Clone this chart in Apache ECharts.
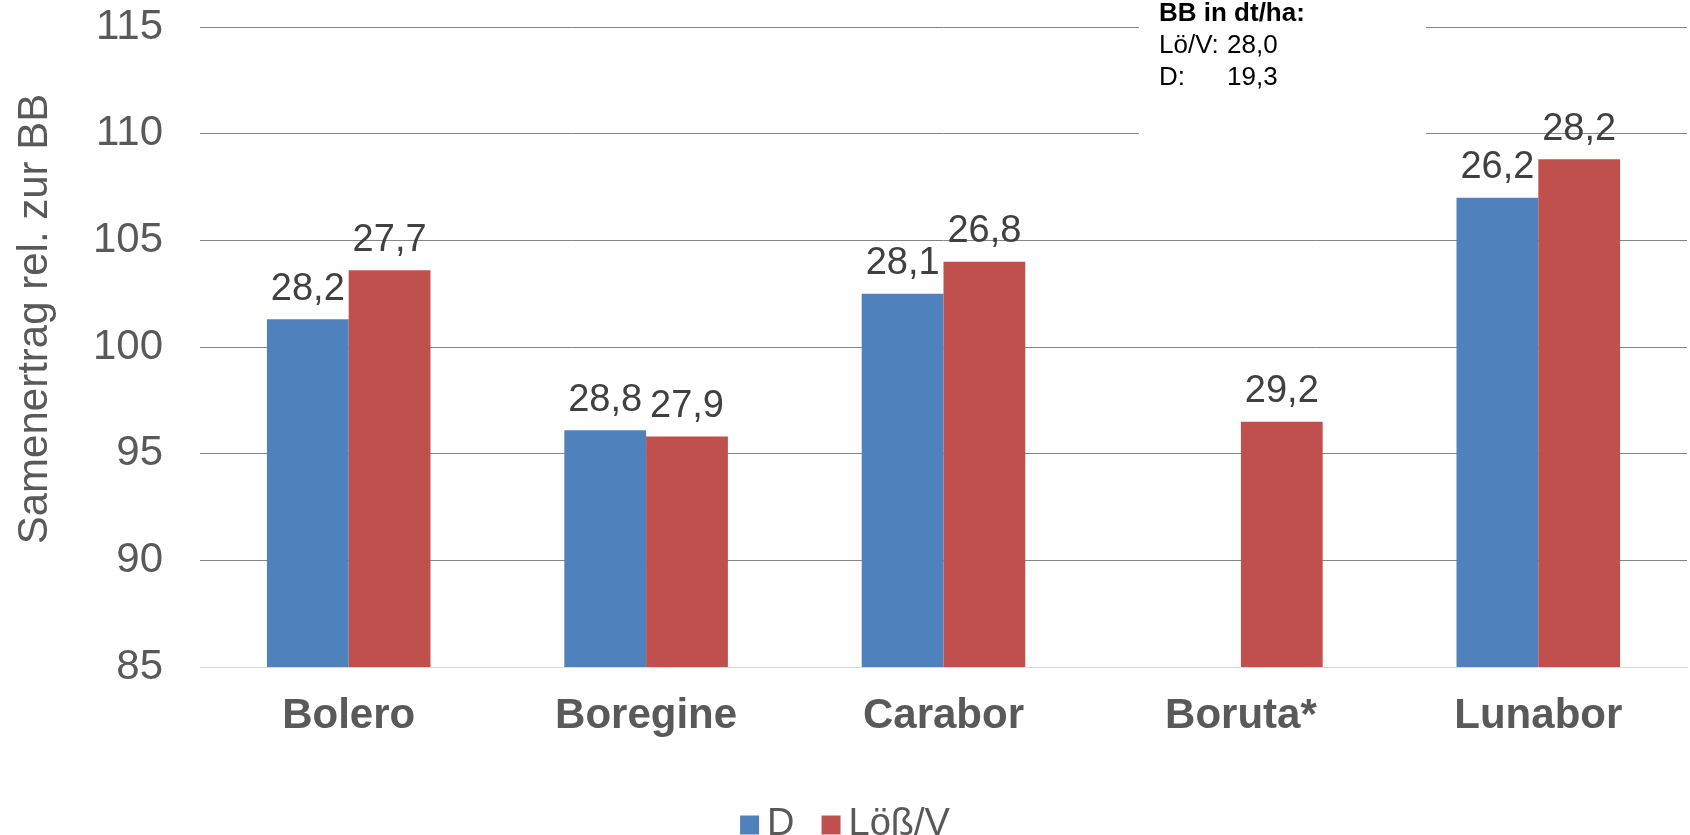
<!DOCTYPE html>
<html>
<head>
<meta charset="utf-8">
<script src="https://cdn.jsdelivr.net/npm/echarts@6/dist/echarts.min.js"></script>
<style>
html,body{margin:0;padding:0;background:#fff;}
#chart{width:1690px;height:835px;}
</style>
</head>
<body>
<div id="chart"></div>
<script>
const categories = ['Bolero', 'Boregine', 'Carabor', 'Boruta*', 'Lunabor'];
const seriesNames = ['D', 'Löß/V'];
const valuesD = [101.3, 96.1, 102.5, null, 107.0];
const valuesLoess = [103.6, 95.8, 104.0, 96.5, 108.8];
const labelsD = ['28,2', '28,8', '28,1', '', '26,2'];
const labelsLoess = ['27,7', '27,9', '26,8', '29,2', '28,2'];
const yTicks = [85, 90, 95, 100, 105, 110, 115];
const yAxisTitle = 'Samenertrag rel. zur BB';
const noteTitle = 'BB in dt/ha:';
const noteRows = [['Lö/V:', '28,0'], ['D:', '19,3']];

const FONT = '"Liberation Sans", Arial, Helvetica, sans-serif';
const chart = echarts.init(document.getElementById('chart'));

function labelFor(arr) {
  return {
    show: true,
    position: 'top',
    distance: 11,
    fontFamily: FONT,
    fontSize: 38,
    color: '#404040',
    formatter: p => arr[p.dataIndex]
  };
}

const noteGraphics = [
  { type: 'rect', z: 100, shape: { x: 1139, y: 0, width: 287, height: 150 }, style: { fill: '#ffffff' } },
  { type: 'text', z: 101, x: 1159, y: 14, style: { text: noteTitle, font: 'bold 26px ' + FONT, fill: '#000', verticalAlign: 'middle' } }
];
noteRows.forEach((r, i) => {
  const y = 46 + i * 32;
  noteGraphics.push({ type: 'text', z: 101, x: 1159, y: y, style: { text: r[0], font: '26px ' + FONT, fill: '#000', verticalAlign: 'middle' } });
  noteGraphics.push({ type: 'text', z: 101, x: 1227, y: y, style: { text: r[1], font: '26px ' + FONT, fill: '#000', verticalAlign: 'middle' } });
});
noteGraphics.push({
  type: 'text', z: 101, x: 35, y: 319, rotation: Math.PI / 2,
  style: { text: yAxisTitle, font: '42px ' + FONT, fill: '#595959', align: 'center', verticalAlign: 'middle' }
});

chart.setOption({
  animation: false,
  backgroundColor: '#ffffff',
  grid: { left: 200, right: 3, top: 27, bottom: 168, containLabel: false },
  legend: {
    data: seriesNames,
    left: 'center',
    top: 801,
    icon: 'rect',
    itemWidth: 19,
    itemHeight: 19,
    itemGap: 27,
    textStyle: { fontFamily: FONT, fontSize: 38, color: '#595959', padding: [0, 0, 0, 3] }
  },
  xAxis: {
    type: 'category',
    data: categories,
    axisLine: { show: true, lineStyle: { color: '#d9d9d9', width: 1 } },
    axisTick: { show: false },
    axisLabel: { fontFamily: FONT, fontSize: 42, fontWeight: 'bold', color: '#595959', margin: 28 },
    splitLine: { show: false }
  },
  yAxis: {
    type: 'value',
    min: yTicks[0],
    max: yTicks[yTicks.length - 1],
    interval: 5,
    axisLine: { show: false },
    axisTick: { show: false },
    axisLabel: { fontFamily: FONT, fontSize: 42, color: '#595959', margin: 37 },
    splitLine: { show: true, lineStyle: { color: ['#d9d9d9', '#868686', '#868686', '#868686', '#868686', '#868686', '#868686'], width: 1 } }
  },
  series: [
    {
      name: seriesNames[0], type: 'bar', data: valuesD,
      barGap: '0%', barCategoryGap: '45%',
      itemStyle: { color: '#4f81bd' },
      label: labelFor(labelsD)
    },
    {
      name: seriesNames[1], type: 'bar', data: valuesLoess,
      barGap: '0%', barCategoryGap: '45%',
      itemStyle: { color: '#c0504d' },
      label: labelFor(labelsLoess)
    }
  ],
  graphic: noteGraphics
});
</script>
</body>
</html>
